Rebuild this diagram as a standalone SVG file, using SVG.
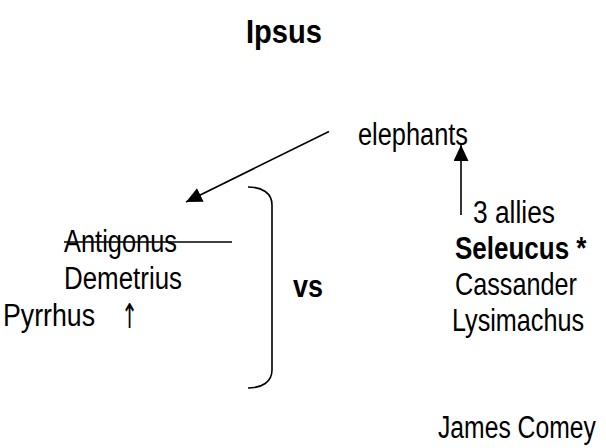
<svg xmlns="http://www.w3.org/2000/svg" width="606" height="448" viewBox="0 0 606 448">
<style>
text{font-family:"Liberation Sans",Arial,sans-serif;font-size:31px;fill:#000}
.b{font-weight:bold}
.ln{stroke:#000;stroke-width:1.6;fill:none}
</style>
<defs>
<marker id="ah" markerUnits="userSpaceOnUse" markerWidth="17" markerHeight="15" refX="16" refY="7.5" orient="auto">
<path d="M0,0 L16,7.5 L0,15 z" fill="#000"/>
</marker>
</defs>
<rect width="606" height="448" fill="#fff"/>
<g id="title"><text class="b" x="246" y="43" style="font-size:33px" textLength="76" lengthAdjust="spacingAndGlyphs">Ipsus</text></g>
<g id="elephants"><text x="358" y="145" textLength="110" lengthAdjust="spacingAndGlyphs">elephants</text></g>
<g id="left">
<text x="64" y="252" textLength="113" lengthAdjust="spacingAndGlyphs">Antigonus</text>
<line class="ln" x1="64" y1="242" x2="232" y2="242"/>
<text x="64" y="289" textLength="118" lengthAdjust="spacingAndGlyphs">Demetrius</text>
<text x="3" y="326" textLength="92" lengthAdjust="spacingAndGlyphs">Pyrrhus</text>
<text x="121" y="328" style="font-family:'DejaVu Sans',sans-serif;font-size:34px" textLength="17" lengthAdjust="spacingAndGlyphs">↑</text>
</g>
<g id="bracket"><path class="ln" d="M248,187 C262,187 272,193 272,205 L272,370 C272,382 262,388 248,388"/></g>
<g id="vs"><text class="b" x="293" y="297" textLength="30" lengthAdjust="spacingAndGlyphs">vs</text></g>
<g id="allies">
<text x="473" y="223" textLength="82" lengthAdjust="spacingAndGlyphs">3 allies</text>
<text class="b" transform="translate(455,259) scale(1,1.19)" x="0" y="0" style="font-size:26px">Seleucus *</text>
<text transform="translate(455,295) scale(1,1.23)" x="0" y="0" style="font-size:25.2px">Cassander</text>
<text transform="translate(452,331) scale(1,1.23)" x="0" y="0" style="font-size:25.2px">Lysimachus</text>
</g>
<g id="comey"><text transform="translate(438,438) scale(1,1.255)" x="0" y="0" style="font-size:24.7px">James Comey</text></g>
<g id="connectors">
<line class="ln" x1="329" y1="131.5" x2="186" y2="202" marker-end="url(#ah)"/>
<line class="ln" x1="461" y1="215" x2="461" y2="145" marker-end="url(#ah)"/>
</g>
</svg>
